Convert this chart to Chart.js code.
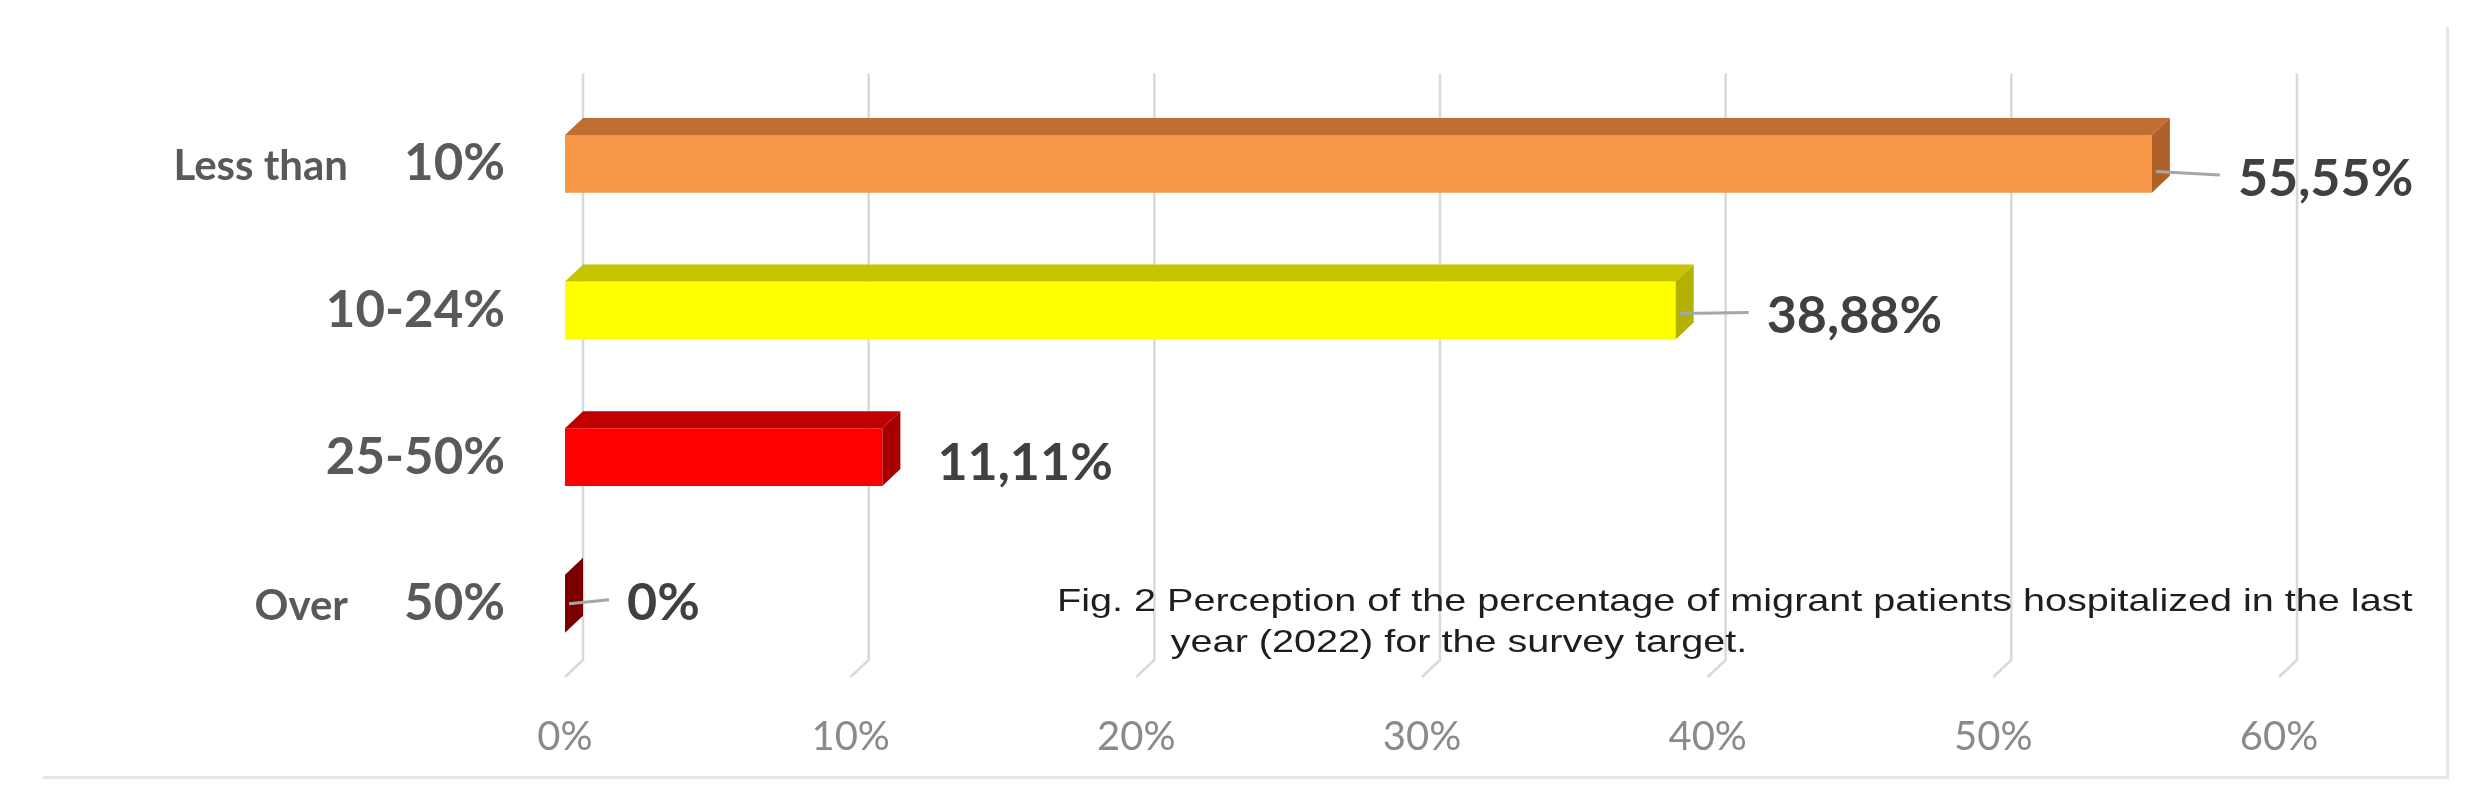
<!DOCTYPE html>
<html>
<head>
<meta charset="utf-8">
<script src="https://cdn.jsdelivr.net/npm/chart.js@4.4.1/dist/chart.umd.min.js"></script>
<style>
  html, body { margin: 0; padding: 0; background: #fff; }
  #wrap { position: relative; width: 2485px; height: 806px; overflow: hidden; }
  #frame {
    position: absolute; left: 43px; top: 27px; width: 2403px; height: 749px;
    border-right: 3px solid #e6e6e6; border-bottom: 3px solid #e6e6e6;
  }
  #chart { position: absolute; left: 0; top: 0; }
  #caption {
    position: absolute; left: 1057px; top: 580px;
    font-family: "Liberation Sans", Arial, sans-serif; font-size: 32px;
    line-height: 41px; color: #1e1e1e; white-space: nowrap;
    padding-left: 92px; text-indent: -92px;
    transform: scaleX(1.237); transform-origin: 0 0;
  }
</style>
</head>
<body>
<div id="wrap">
  <div id="frame"></div>
  <canvas id="chart" width="2485" height="806"></canvas>
  <div id="caption">Fig. 2 Perception of the percentage of migrant patients hospitalized in the last<br>year (2022) for the survey target.</div>
</div>
<script>
  // Data
  var CATEGORIES = ["10%", "10-24%", "25-50%", "50%"];
  var PREFIXES = ["Less than", "", "", "Over"];
  var VALUES = [55.55, 38.88, 11.11, 0];
  var X_TICKS = [0, 10, 20, 30, 40, 50, 60];

  // Look of the 3D bars: front, top and side faces
  var FRONT_COLORS = ["#F79646", "#FFFF00", "#FF0000", "#8B0000"];
  var TOP_COLORS = ["#BF6F31", "#C6C400", "#C00000", "#6E0000"];
  var SIDE_COLORS = ["#AE6129", "#B2B000", "#A80000", "#7A0000"];
  var DX = 18, DY = 17;           // depth offset of the back wall
  var GRID = "#d9d9d9";
  var LABEL_DX = [86, 91, 55, 62]; // where Excel left the data labels
  var LABEL_DY = [15, 6, 6, 0];
  var TEXT_DARK = "#404040";
  var TEXT_CAT = "#595959";

  function fmtValue(v) {
    if (v === 0) return "0%";
    return v.toFixed(2).replace(".", ",") + "%";
  }

  function poly(ctx, pts) {
    ctx.beginPath();
    ctx.moveTo(pts[0][0], pts[0][1]);
    for (var i = 1; i < pts.length; i++) ctx.lineTo(pts[i][0], pts[i][1]);
    ctx.closePath();
    ctx.fill();
  }

  // Back-wall gridlines with the slanted floor segment, then the bar depth faces.
  var depthPlugin = {
    id: "depth3d",
    beforeDatasetsDraw: function (chart) {
      var x = chart.scales.x, area = chart.chartArea, ctx = chart.ctx;
      ctx.save();
      ctx.strokeStyle = GRID;
      ctx.lineWidth = 2.5;
      x.ticks.forEach(function (t) {
        var xf = x.getPixelForValue(t.value), xb = xf + DX;
        ctx.beginPath();
        ctx.moveTo(xb, area.top - DY);
        ctx.lineTo(xb, area.bottom - DY);
        ctx.lineTo(xf, area.bottom);
        ctx.stroke();
      });
      ctx.restore();
    },
    afterDatasetsDraw: function (chart) {
      var meta = chart.getDatasetMeta(0), ctx = chart.ctx;
      ctx.save();
      meta.data.forEach(function (bar, i) {
        var p = bar.getProps(["x", "y", "base", "height"], true);
        var top = p.y - p.height / 2, bot = p.y + p.height / 2;
        var l = Math.min(p.base, p.x), r = Math.max(p.base, p.x);
        ctx.fillStyle = TOP_COLORS[i];
        poly(ctx, [[l, top], [r, top], [r + DX, top - DY], [l + DX, top - DY]]);
        ctx.fillStyle = SIDE_COLORS[i];
        poly(ctx, [[r, top], [r + DX, top - DY], [r + DX, bot - DY], [r, bot]]);
      });
      ctx.restore();
    },
    afterDraw: function (chart) {
      var meta = chart.getDatasetMeta(0), ctx = chart.ctx, y = chart.scales.y;
      ctx.save();
      // value labels + leader lines (the red label sits too close for one)
      ctx.textBaseline = "middle";
      ctx.textAlign = "left";
      ctx.font = "bold 52px Lato";
      meta.data.forEach(function (bar, i) {
        var p = bar.getProps(["x", "y"], true);
        var lx = p.x + LABEL_DX[i], ly = p.y + LABEL_DY[i];
        if (LABEL_DX[i] - DX > 40) {
          ctx.strokeStyle = "#a6a6a6";
          ctx.lineWidth = 3;
          ctx.beginPath();
          ctx.moveTo(p.x + 4, p.y + LABEL_DY[i] / 2);
          ctx.lineTo(lx - 18, ly - 4);
          ctx.stroke();
        }
        ctx.fillStyle = TEXT_DARK;
        ctx.fillText(fmtValue(VALUES[i]), lx, ly);
      });
      // small prefix words in front of the category ticks
      ctx.font = "bold 42px Lato";
      ctx.fillStyle = TEXT_CAT;
      ctx.textAlign = "right";
      PREFIXES.forEach(function (txt, i) {
        if (!txt) return;
        ctx.fillText(txt, 348, y.getPixelForValue(i) + 3);
      });
      ctx.restore();
    }
  };

  new Chart(document.getElementById("chart").getContext("2d"), {
    type: "bar",
    data: {
      labels: CATEGORIES,
      datasets: [{
        data: VALUES,
        backgroundColor: FRONT_COLORS,
        borderWidth: 0,
        categoryPercentage: 1,
        barPercentage: 0.395
      }]
    },
    options: {
      indexAxis: "y",
      responsive: false,
      animation: false,
      events: [],
      layout: { padding: { left: 0, right: 206, top: 86, bottom: 0 } },
      plugins: { legend: { display: false }, tooltip: { enabled: false } },
      scales: {
        x: {
          min: 0, max: 60,
          afterBuildTicks: function (s) {
            s.ticks = X_TICKS.map(function (v) { return { value: v }; });
          },
          afterFit: function (s) { s.height = 129; },
          grid: { display: false, drawTicks: false },
          border: { display: false },
          ticks: {
            padding: 36,
            color: "#8a8a8a",
            font: { family: "Lato", size: 40 },
            callback: function (v) { return v + "%"; }
          }
        },
        y: {
          afterFit: function (s) { s.width = 565; },
          grid: { display: false, drawTicks: false },
          border: { display: false },
          ticks: {
            padding: 60,
            color: TEXT_CAT,
            font: { family: "Lato", size: 51, weight: "bold" }
          }
        }
      }
    },
    plugins: [depthPlugin]
  });
</script>
</body>
</html>
